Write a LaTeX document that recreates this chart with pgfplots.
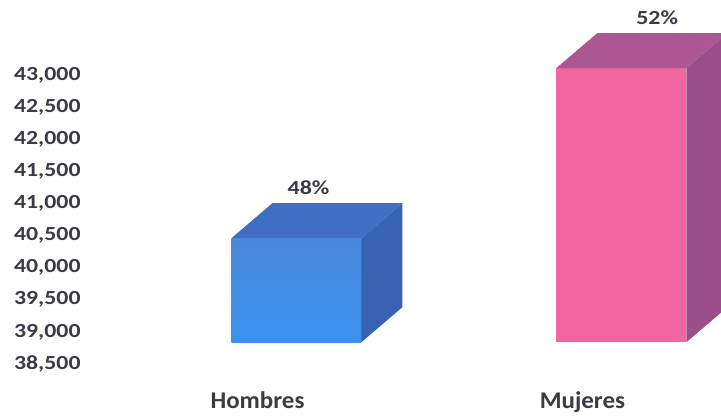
\documentclass[border=0pt]{standalone}
\usepackage{pgfplots}
\pgfplotsset{compat=1.18}
\usepackage{graphicx}
\usepackage{fontspec}
\setmainfont{Carlito}

\definecolor{labelgray}{HTML}{3A3A48}
\definecolor{hfronttop}{HTML}{4A88DC}
\definecolor{hfrontbot}{HTML}{3C92F0}
\definecolor{htop}{HTML}{406EC2}
\definecolor{hside}{HTML}{3862B2}
\definecolor{mfront}{HTML}{F066A0}
\definecolor{mtop}{HTML}{AC5692}
\definecolor{mside}{HTML}{9C4E88}

\begin{document}
\begin{tikzpicture}
\begin{axis}[
    scale only axis,
    width=721pt,
    height=385pt,
    xmin=-0.912, xmax=1.306,
    ymin=38173, ymax=44168,
    axis line style={draw=none},
    major tick length=0pt,
    scaled y ticks=false,
    ytick={38500,39000,...,43000},
    yticklabel={\scalebox{1.19}[1]{\pgfmathprintnumber[assume math mode=true,fixed,precision=0]{\tick}}},
    yticklabel style={anchor=east, xshift=84pt, text=labelgray,
        font=\fontsize{20}{24}\selectfont\bfseries},
    xtick={0,1},
    xticklabels={{\scalebox{1.04}[1]{Hombres}},{\scalebox{1.04}[1]{Mujeres}}},
    xticklabel style={xshift=-39pt, yshift=-3pt, text=labelgray,
        font=\fontsize{24}{28}\selectfont\bfseries},
]
% Hombres: front, top, side
\addplot[draw=none, top color=hfronttop, bottom color=hfrontbot]
  coordinates {(-0.2,38840) (0.2,38840) (0.2,40460) (-0.2,40460)} -- cycle;
\addplot[draw=none, fill=htop]
  coordinates {(-0.2,40460) (0.2,40460) (0.326,41005) (-0.074,41005)} -- cycle;
\addplot[draw=none, fill=hside]
  coordinates {(0.2,38840) (0.326,39385) (0.326,41005) (0.2,40460)} -- cycle;
% Mujeres: front, top, side
\addplot[draw=none, fill=mfront]
  coordinates {(0.8,38840) (1.2,38840) (1.2,43110) (0.8,43110)} -- cycle;
\addplot[draw=none, fill=mtop]
  coordinates {(0.8,43110) (1.2,43110) (1.326,43655) (0.926,43655)} -- cycle;
\addplot[draw=none, fill=mside]
  coordinates {(1.2,38840) (1.326,39385) (1.326,43655) (1.2,43110)} -- cycle;
% percentage labels
\addplot[draw=none, mark=none, point meta=explicit symbolic,
    nodes near coords={\scalebox{1.2}[1]{\pgfplotspointmeta}},
    nodes near coords style={anchor=south, yshift=5pt, text=labelgray,
        font=\fontsize{20}{24}\selectfont\bfseries}]
  coordinates {(0.037,41005) [48\%] (1.11,43655) [52\%]};
\end{axis}
\end{tikzpicture}
\end{document}
